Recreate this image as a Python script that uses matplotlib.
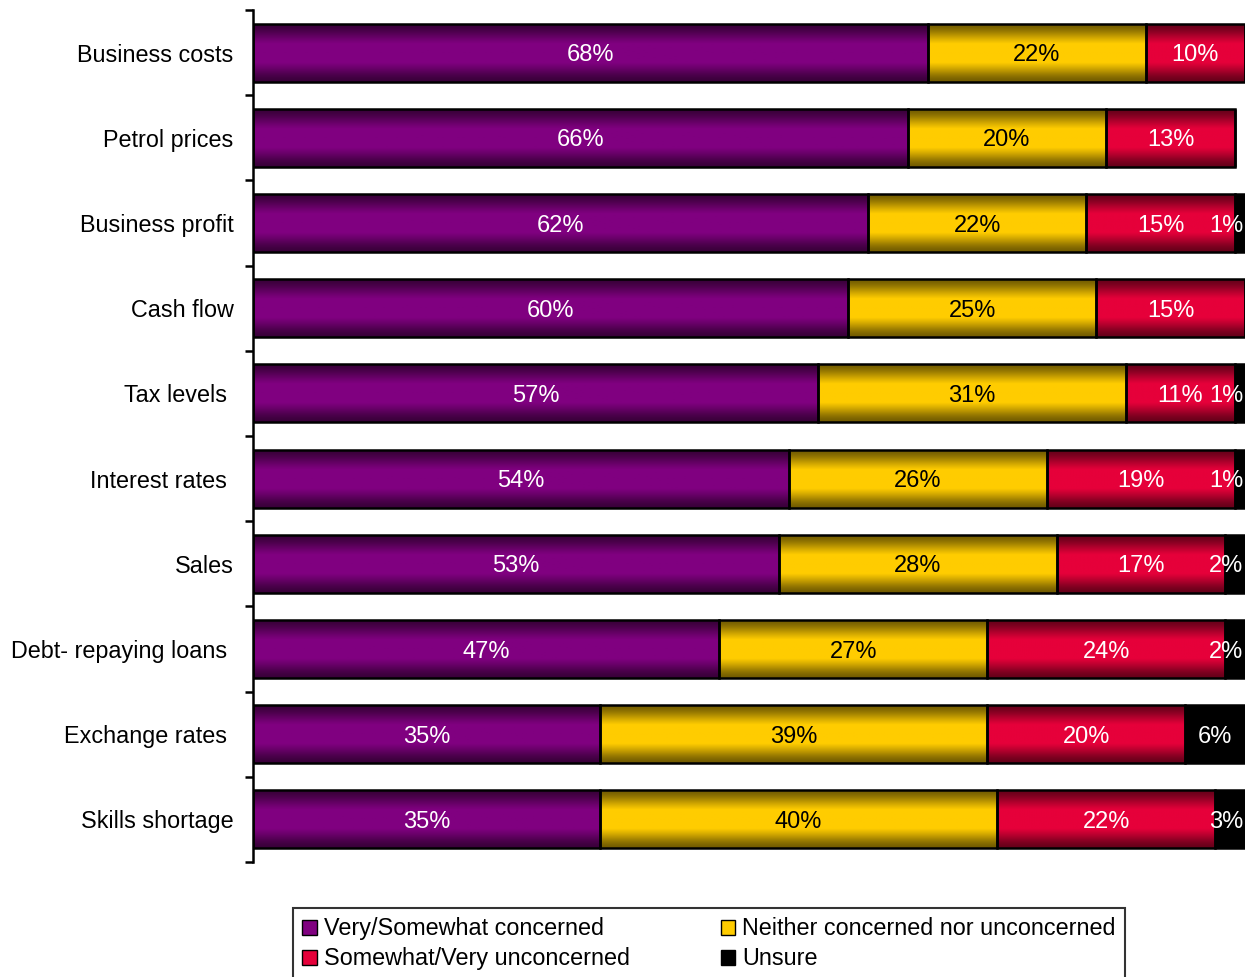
import numpy as np
import matplotlib
matplotlib.use("Agg")
from matplotlib import pyplot as plt
from matplotlib.patches import Patch

plt.rcParams['font.family'] = ['Liberation Sans', 'DejaVu Sans']

categories = ['Business costs', 'Petrol prices', 'Business profit', 'Cash flow',
              'Tax levels ', 'Interest rates ', 'Sales', 'Debt- repaying loans ',
              'Exchange rates ', 'Skills shortage']
concerned = [68, 66, 62, 60, 57, 54, 53, 47, 35, 35]
neither = [22, 20, 22, 25, 31, 26, 28, 27, 39, 40]
unconcerned = [10, 13, 15, 15, 11, 19, 17, 24, 20, 22]
unsure = [0, 0, 1, 0, 1, 1, 2, 2, 6, 3]

series_names = ['Very/Somewhat concerned', 'Neither concerned nor unconcerned',
                'Somewhat/Very unconcerned', 'Unsure']
series_colors = ['#800080', '#FFCC00', '#E6003A', '#000000']
label_colors = ['white', 'black', 'white', 'white']


def shade(color, n=64):
    # darker at the top and bottom edges, full colour in the middle band
    t = np.linspace(0, 1, n)
    f = 0.45 + 0.55 * np.clip(np.sin(np.pi * t) * 1.15, 0, 1) ** 1.5
    rgb = np.array(matplotlib.colors.to_rgb(color))
    return (f[:, None] * rgb[None, :])[:, None, :]


fig = plt.figure(figsize=(12.45, 9.77), dpi=100)
ax = fig.add_axes([253 / 1245, 1 - 862 / 977, 1 - 253 / 1245, 852 / 977])

y = np.arange(len(categories))
height = 0.68
left = np.zeros(len(categories))
for vals, name, col, tcol in zip([concerned, neither, unconcerned, unsure],
                                 series_names, series_colors, label_colors):
    vals = np.array(vals, dtype=float)
    bars = ax.barh(y, vals, height, left=left, color=col, zorder=2, label=name)
    if col != '#000000':
        g = shade(col)
        for p in bars.patches:
            if p.get_width() <= 0:
                continue
            x0, y0 = p.get_xy()
            im = ax.imshow(g, extent=(x0, x0 + p.get_width(), y0, y0 + p.get_height()),
                           aspect='auto', interpolation='bilinear', zorder=2.5)
            im.set_clip_path(p)
    ax.barh(y, vals, height, left=left, fill=False, edgecolor='black',
            linewidth=1.8, zorder=3)
    for yi, l, v in zip(y, left, vals):
        if v <= 0:
            continue
        xc = min(l + v / 2, 98.1)
        ax.text(xc, yi + 0.03, f'{int(v)}%', ha='center', va='center',
                color=tcol, fontsize=17, zorder=4)
    left += vals

ax.set_xlim(0, 100)
ax.set_ylim(len(categories) - 0.5, -0.5)
ax.set_yticks(y)
ax.set_yticklabels(categories, fontsize=16.8)
ax.set_yticks(np.arange(len(categories) + 1) - 0.5, minor=True)
ax.tick_params(axis='y', which='major', length=0, pad=14)
ax.tick_params(axis='y', which='minor', length=6, width=1.8, direction='out')
ax.get_xaxis().set_visible(False)
for s in ['top', 'right', 'bottom']:
    ax.spines[s].set_visible(False)
ax.spines['left'].set_linewidth(1.8)

handles = [Patch(facecolor=c, edgecolor='black', linewidth=1) for c in series_colors]
# legend order: row-wise across two columns
order = [0, 2, 1, 3]
leg = fig.legend([handles[i] for i in order], [series_names[i] for i in order],
                 loc='upper left', bbox_to_anchor=(293 / 1245, 1 - 908 / 977),
                 ncol=2, fontsize=16.8, frameon=True, fancybox=False,
                 edgecolor='black', handlelength=0.62, handleheight=0.62,
                 handletextpad=0.3, borderpad=0.4, labelspacing=0.3,
                 columnspacing=3.9, borderaxespad=0)
leg.get_frame().set_linewidth(1.5)

fig.savefig('out.png', dpi=100)
